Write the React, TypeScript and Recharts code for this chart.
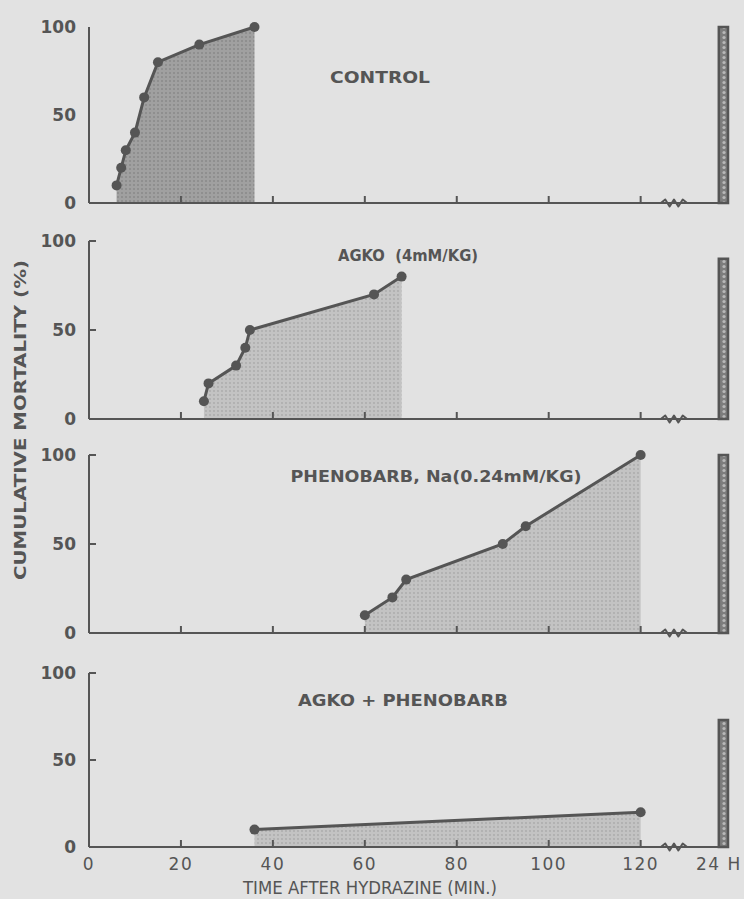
import React from 'react';
import { ComposedChart, Area, XAxis, YAxis, ReferenceArea, ReferenceLine } from 'recharts';

// ---- data ----
const controlTime = [6, 7, 8, 10, 12, 15, 24, 36];
const controlMort = [10, 20, 30, 40, 60, 80, 90, 100];
const agkoTime = [25, 26, 32, 34, 35, 62, 68];
const agkoMort = [10, 20, 30, 40, 50, 70, 80];
const phenoTime = [60, 66, 69, 90, 95, 120];
const phenoMort = [10, 20, 30, 50, 60, 100];
const comboTime = [36, 120];
const comboMort = [10, 20];
const hour24Mort = [100, 90, 100, 73];
const panelTitles = ['CONTROL', 'AGKO  (4mM/KG)', 'PHENOBARB, Na(0.24mM/KG)', 'AGKO + PHENOBARB'];
const xTickValues = [0, 20, 40, 60, 80, 100, 120, 137];
const xTickLabels = ['0', '20', '40', '60', '80', '100', '120', '24 H'];
const yTicks = [0, 50, 100];
const xTitle = 'TIME AFTER HYDRAZINE (MIN.)';
const yTitle = 'CUMULATIVE MORTALITY (%)';

const BG = '#e2e2e2';
const INK = '#555555';
const FONT = '"DejaVu Sans", "Liberation Sans", sans-serif';

const series = [
  { time: controlTime, mort: controlMort },
  { time: agkoTime, mort: agkoMort },
  { time: phenoTime, mort: phenoMort },
  { time: comboTime, mort: comboMort },
];

const layout = [
  { y100: 27, plotH: 176, fill: 'dark', inward: false, labels: false },
  { y100: 241, plotH: 178, fill: 'light', inward: true, labels: false },
  { y100: 455, plotH: 178, fill: 'light', inward: true, labels: false },
  { y100: 673, plotH: 174, fill: 'light', inward: true, labels: true },
];

const titlePos = [
  { cx: 380, y: 83, len: 100 },
  { cx: 408, y: 261, len: 140 },
  { cx: 436, y: 482, len: 291 },
  { cx: 403, y: 706, len: 210 },
];

const TOP_PAD = 12;

const makeXTick = (showLabel: boolean) => (props: any) => {
  const { x, y, payload } = props;
  const v = payload.value;
  const idx = xTickValues.indexOf(v);
  return (
    <g>
      {v > 0 && v <= 120 && (
        <line x1={x} x2={x} y1={y} y2={y - 7} stroke={INK} strokeWidth={2} />
      )}
      {showLabel && (
        <text x={x} y={y + 23} textAnchor="middle" fill={INK} fontFamily={FONT} fontSize={17} letterSpacing={1.5}>
          {xTickLabels[idx]}
        </text>
      )}
    </g>
  );
};

const makeYTick = (inward: boolean) => (props: any) => {
  const { x, y, payload } = props;
  const v = payload.value;
  return (
    <g>
      {inward && v > 0 && <line x1={x} x2={x + 7} y1={y} y2={y} stroke={INK} strokeWidth={2} />}
      <text x={x - 13} y={y + 6} textAnchor="end" fill={INK} fontFamily={FONT} fontSize={17} fontWeight="bold">
        {v}
      </text>
    </g>
  );
};

const Zigzag = (props: any) => {
  const { x1, y1, x2 } = props;
  const w = x2 - x1;
  const a = 3.5;
  const s = x1 + w * 0.12;
  const e = x1 + w * 0.88;
  const n = 6;
  const step = (e - s) / n;
  let d = `M${x1},${y1} L${s},${y1}`;
  for (let i = 1; i <= n; i++) {
    const yy = i === n ? y1 : y1 + (i % 2 === 1 ? -a : a);
    d += ` L${s + step * i},${yy}`;
  }
  d += ` L${x2},${y1}`;
  return (
    <g>
      <line x1={x1} x2={x2} y1={y1} y2={y1} stroke={BG} strokeWidth={4} />
      <path d={d} fill="none" stroke={INK} strokeWidth={2} strokeLinejoin="round" />
    </g>
  );
};

const Panel = ({ i }: { i: number }) => {
  const L = layout[i];
  const axisH = L.labels ? 40 : 14;
  const height = TOP_PAD + L.plotH + axisH;
  const data = series[i].time.map((t, k) => ({ t, mort: series[i].mort[k] }));
  const pid = `p${i}`;
  return (
    <div style={{ position: 'absolute', left: 0, top: L.y100 - TOP_PAD }}>
      <ComposedChart width={744} height={height} data={data} margin={{ top: TOP_PAD, right: 16, left: 0, bottom: 0 }}>
        <defs>
          <pattern id={`dots-${pid}`} width="4" height="4" patternUnits="userSpaceOnUse">
            <rect width="4" height="4" fill={L.fill === 'dark' ? '#a0a0a0' : '#c3c3c3'} />
            <circle cx="2" cy="2" r="0.9" fill={L.fill === 'dark' ? '#878787' : '#aaaaaa'} />
          </pattern>
          <pattern id={`bar-${pid}`} width="8" height="5" patternUnits="userSpaceOnUse">
            <rect width="8" height="5" fill="#7d7d7d" />
            <circle cx="4" cy="2.5" r="1.6" fill="#b8b8b8" />
          </pattern>
        </defs>
        <XAxis
          dataKey="t"
          type="number"
          domain={[0, 139]}
          ticks={xTickValues}
          interval={0}
          height={axisH}
          tickSize={0}
          tickMargin={0}
          tickLine={false}
          axisLine={{ stroke: INK, strokeWidth: 2 }}
          tick={makeXTick(L.labels)}
        />
        <YAxis
          type="number"
          domain={[0, 100]}
          ticks={yTicks}
          interval={0}
          width={89}
          tickSize={0}
          tickMargin={0}
          tickLine={false}
          axisLine={{ stroke: INK, strokeWidth: 2 }}
          tick={makeYTick(L.inward)}
        />
        <Area
          type="linear"
          dataKey="mort"
          baseValue={0}
          stroke={INK}
          strokeWidth={3}
          fill={`url(#dots-${pid})`}
          fillOpacity={1}
          dot={{ r: 5, fill: INK, stroke: 'none' }}
          activeDot={false}
          isAnimationActive={false}
        />
        <ReferenceLine
          segment={[{ x: 123.5, y: 0 }, { x: 131, y: 0 }]}
          shape={Zigzag}
          ifOverflow="visible"
        />
        <ReferenceArea
          x1={137}
          x2={139}
          y1={0}
          y2={hour24Mort[i]}
          fill={`url(#bar-${pid})`}
          fillOpacity={1}
          stroke={INK}
          strokeWidth={2.5}
          ifOverflow="visible"
        />
      </ComposedChart>
    </div>
  );
};

export default function App() {
  return (
    <div style={{ position: 'absolute', left: 0, top: 0, width: 744, height: 899, background: BG, overflow: 'hidden' }}>
      {[0, 1, 2, 3].map((i) => (
        <Panel key={i} i={i} />
      ))}
      <svg width={744} height={899} style={{ position: 'absolute', left: 0, top: 0, pointerEvents: 'none' }}>
        {panelTitles.map((t, i) => (
          <text
            key={i}
            x={titlePos[i].cx}
            y={titlePos[i].y}
            textAnchor="middle"
            fill={INK}
            fontFamily={FONT}
            fontSize={15}
            fontWeight="bold"
            textLength={titlePos[i].len}
            lengthAdjust="spacingAndGlyphs"
            style={{ whiteSpace: 'pre' }}
          >
            {t}
          </text>
        ))}
        <text
          x={370}
          y={894}
          textAnchor="middle"
          fill={INK}
          fontFamily={FONT}
          fontSize={17}
          textLength={254}
          lengthAdjust="spacingAndGlyphs"
        >
          {xTitle}
        </text>
        <text
          x={0}
          y={0}
          transform="translate(26,420) rotate(-90)"
          textAnchor="middle"
          fill={INK}
          fontFamily={FONT}
          fontSize={16}
          fontWeight="bold"
          textLength={320}
          lengthAdjust="spacingAndGlyphs"
        >
          {yTitle}
        </text>
      </svg>
    </div>
  );
}
